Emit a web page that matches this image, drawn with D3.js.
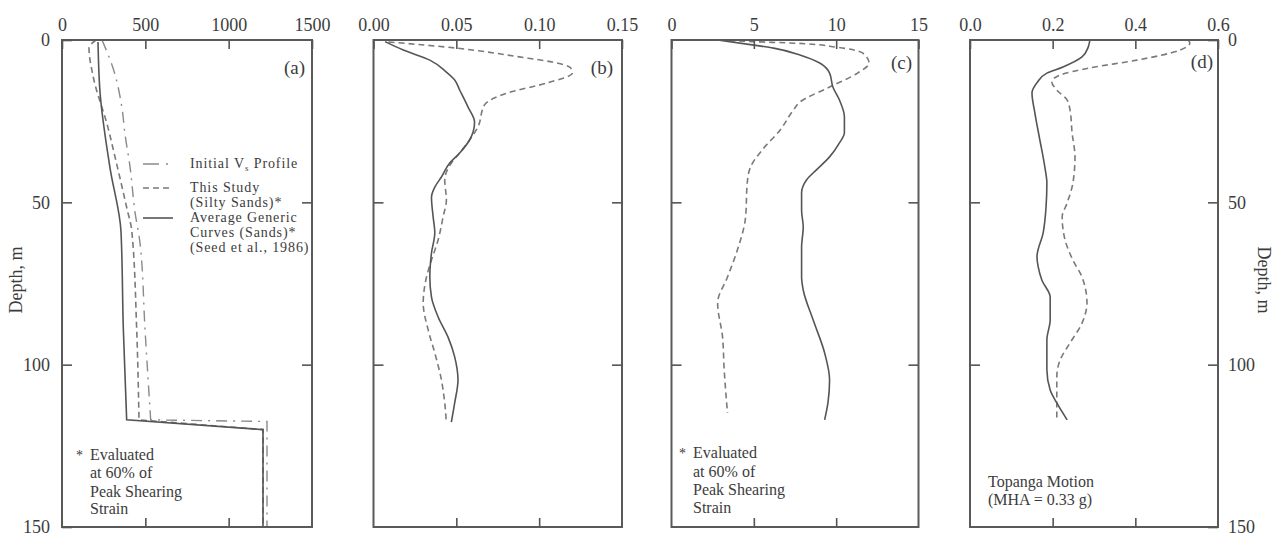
<!DOCTYPE html>
<html>
<head>
<meta charset="utf-8">
<script src="https://cdn.jsdelivr.net/npm/d3@7"></script>
<style>
  body { margin: 0; background: #fff; }
  text { font-family: "Liberation Serif", "Times New Roman", serif; fill: #3c3c3c; }
</style>
</head>
<body>
<div class="graph"></div>
<script>
const w = 1286;
const h = 545;
const yTop = 40, yBottom = 527;

const depthTicks = [0, 50, 100, 150];
const innerDepthTicks = [50, 100];

// (a) shear wave velocity, m/s  (last 3 points: jump to the stiff layer)
const xTicksA = [0, 500, 1000, 1500];
const vsInitialDepth = [0, 8.6, 21, 29, 39, 53, 62.5, 89, 117, 117.5, 150];
const vsInitial = [240, 306, 360, 378, 408, 438, 468, 498, 532, 1230, 1230];
const vsStudyDepth = [0, 2.5, 11, 27, 36, 52, 58.5, 89, 117, 120, 150];
const vsStudy = [204, 162, 186, 276, 318, 390, 418, 448, 462, 1206, 1206];
const vsGenericDepth = [0.6, 16, 39.4, 59, 89, 117, 120, 150];
const vsGeneric = [216, 228, 288, 354, 368, 388, 1206, 1206];

// (b) shear strain
const xTicksB = [0, 0.05, 0.10, 0.15];
const strainGenericDepth = [0.5, 3.1, 6.2, 9.9, 12.3, 15.4, 20.6, 25.3, 30.8, 34.8, 37.9, 42.2, 45.3, 48.4, 54.5, 59.4, 65.6, 73, 79.2, 85.3, 91.5, 97.6, 104.7, 111.8, 117.7];
const strainGeneric = [0.007, 0.018, 0.034, 0.044, 0.049, 0.052, 0.057, 0.061, 0.058, 0.052, 0.046, 0.041, 0.037, 0.035, 0.036, 0.037, 0.035, 0.034, 0.035, 0.039, 0.045, 0.049, 0.051, 0.049, 0.047];
const strainStudyDepth = [0.6, 2.5, 5.2, 6.8, 8.6, 10.2, 13.2, 16.3, 20, 26.8, 30.8, 34.8, 37.9, 43.1, 49.3, 54.5, 61.6, 67.8, 73, 81, 89.3, 96.4, 104.7, 111.8, 118];
const strainStudy = [0.009, 0.050, 0.088, 0.108, 0.119, 0.120, 0.105, 0.081, 0.067, 0.063, 0.058, 0.052, 0.047, 0.043, 0.044, 0.042, 0.039, 0.035, 0.032, 0.030, 0.033, 0.037, 0.041, 0.043, 0.044];

// (c) damping ratio, %
const xTicksC = [0, 5, 10, 15];
const dampGenericDepth = [0, 1.5, 2.5, 4.6, 7.1, 10.2, 14.5, 18.5, 23.7, 28.6, 31.7, 36, 40, 43.1, 47.1, 52.4, 57.6, 63.8, 73, 77, 86.2, 96.4, 104.7, 111.8, 117];
const dampGeneric = [2.8, 4.9, 6.2, 7.8, 9.0, 9.6, 9.8, 10.2, 10.5, 10.5, 10.2, 9.6, 8.8, 8.2, 7.9, 7.9, 8.0, 7.9, 7.9, 8.0, 8.6, 9.3, 9.6, 9.5, 9.3];
const dampStudyDepth = [0, 0.5, 1.0, 2.2, 4, 7.1, 10.2, 14.5, 19.1, 21.6, 27.7, 33.9, 39.1, 44, 54.5, 64.7, 73, 81, 91.5, 101.6, 114.9];
const dampStudy = [2.9, 4.9, 7.6, 10.0, 11.6, 12.0, 11.3, 9.6, 7.8, 7.4, 6.6, 5.5, 4.8, 4.6, 4.5, 4.0, 3.4, 2.8, 3.1, 3.2, 3.4];

// (d) peak acceleration, g
const xTicksD = [0, 0.2, 0.4, 0.6];
const accGenericDepth = [0, 2.2, 5.2, 8.3, 10.2, 13.2, 16.3, 22.5, 30.8, 39.1, 44, 51.4, 59.4, 66.8, 69.9, 74, 79.2, 86.2, 92.4, 101.6, 107.8, 111.8, 117];
const accGeneric = [0.290, 0.286, 0.271, 0.225, 0.186, 0.162, 0.150, 0.157, 0.169, 0.181, 0.186, 0.184, 0.177, 0.162, 0.165, 0.174, 0.194, 0.194, 0.186, 0.186, 0.194, 0.210, 0.235];
const accStudyDepth = [0, 0.9, 3.1, 6.2, 8.6, 10.8, 12.9, 15.4, 18.5, 21.6, 28.6, 36, 44, 50.2, 54.5, 61.6, 67.8, 73, 81, 87.2, 93.3, 98.6, 103.8, 110, 117];
const accStudy = [0.527, 0.532, 0.508, 0.404, 0.290, 0.218, 0.198, 0.210, 0.235, 0.242, 0.247, 0.254, 0.249, 0.235, 0.223, 0.230, 0.249, 0.271, 0.283, 0.271, 0.242, 0.218, 0.210, 0.210, 0.210];

const styles = {
  solid:   {stroke: "#555", dash: null, width: 1.6},
  dashed:  {stroke: "#7a7a7a", dash: "6,4", width: 1.6},
  dashdot: {stroke: "#8a8a8a", dash: "11,6,2,6", width: 1.4}
};

const panels = [
  {left: 62, right: 312, domain: [0, 1500], ticks: xTicksA, fmt: d3.format("d"), label: "(a)", labelAt: [305, 74],
   leftLabels: true, rightLabels: false, jump: true,
   series: [
     {x: vsInitial, d: vsInitialDepth, style: "dashdot"},
     {x: vsStudy, d: vsStudyDepth, style: "dashed"},
     {x: vsGeneric, d: vsGenericDepth, style: "solid"}
   ]},
  {left: 373.5, right: 622, domain: [0, 0.15], ticks: xTicksB, fmt: d3.format(".2f"), label: "(b)", labelAt: [613, 74],
   leftLabels: false, rightLabels: false,
   series: [
     {x: strainStudy, d: strainStudyDepth, style: "dashed"},
     {x: strainGeneric, d: strainGenericDepth, style: "solid"}
   ]},
  {left: 671.5, right: 918.5, domain: [0, 15], ticks: xTicksC, fmt: d3.format("d"), label: "(c)", labelAt: [912, 69],
   leftLabels: false, rightLabels: false,
   series: [
     {x: dampStudy, d: dampStudyDepth, style: "dashed"},
     {x: dampGeneric, d: dampGenericDepth, style: "solid"}
   ]},
  {left: 970, right: 1218, domain: [0, 0.6], ticks: xTicksD, fmt: d3.format(".1f"), label: "(d)", labelAt: [1213, 68],
   leftLabels: false, rightLabels: true,
   series: [
     {x: accStudy, d: accStudyDepth, style: "dashed"},
     {x: accGeneric, d: accGenericDepth, style: "solid"}
   ]}
];

const canvas = d3.select(".graph")
                 .append("svg")
                 .attr("width", w)
                 .attr("height", h);

const y = d3.scaleLinear().domain([0, 150]).range([yTop, yBottom]);

function styleAxis(g) {
  g.select(".domain").remove();
  g.selectAll("line").attr("stroke", "#555").attr("stroke-width", 1.6);
  g.selectAll("text").attr("font-size", 18).attr("font-family", null).attr("fill", "#3c3c3c");
}

panels.forEach(function(p) {
  const x = d3.scaleLinear().domain(p.domain).range([p.left, p.right]);
  const inner = p.ticks.slice(1, -1);
  const smooth = d3.line().x(d => x(d[0])).y(d => y(d[1])).curve(d3.curveMonotoneY);
  const straight = d3.line().x(d => x(d[0])).y(d => y(d[1]));

  // curves
  p.series.forEach(function(s) {
    const st = styles[s.style];
    const pts = s.x.map((v, i) => [v, s.d[i]]);
    // profile part is smooth; the jump into the stiff layer is straight
    const cut = p.jump ? pts.length - 2 : pts.length;
    const dStr = smooth(pts.slice(0, cut)) + (p.jump ? straight(pts.slice(cut - 1)).replace(/^M/, "L") : "");
    canvas.append("path")
          .attr("fill", "none")
          .attr("stroke", st.stroke)
          .attr("stroke-width", st.width)
          .attr("stroke-dasharray", st.dash)
          .attr("d", dStr);
  });

  // frame
  canvas.append("rect")
        .attr("x", p.left).attr("y", yTop)
        .attr("width", p.right - p.left).attr("height", yBottom - yTop)
        .attr("fill", "none").attr("stroke", "#5a5a5a").attr("stroke-width", 2);

  canvas.append("g")
        .attr("transform", `translate(0, ${yTop})`)
        .call(d3.axisTop(x).tickValues(p.ticks).tickSize(-9).tickSizeOuter(0).tickPadding(9).tickFormat(p.fmt))
        .call(styleAxis);

  canvas.append("g")
        .attr("transform", `translate(0, ${yBottom})`)
        .call(d3.axisBottom(x).tickValues(inner).tickSize(-9).tickSizeOuter(0).tickFormat(""))
        .call(styleAxis);

  canvas.append("g")
        .attr("transform", `translate(${p.left}, 0)`)
        .call(d3.axisLeft(y).tickValues(p.leftLabels ? depthTicks : innerDepthTicks)
                .tickSize(-10).tickSizeOuter(0).tickPadding(12))
        .call(g => { if (!p.leftLabels) g.selectAll("text").remove(); })
        .call(styleAxis);

  canvas.append("g")
        .attr("transform", `translate(${p.right}, 0)`)
        .call(d3.axisRight(y).tickValues(p.rightLabels ? depthTicks : innerDepthTicks)
                .tickSize(-10).tickSizeOuter(0).tickPadding(10))
        .call(g => { if (!p.rightLabels) g.selectAll("text").remove(); })
        .call(styleAxis);

  canvas.append("text")
        .attr("x", p.labelAt[0]).attr("y", p.labelAt[1])
        .attr("text-anchor", "end")
        .attr("font-size", 19)
        .text(p.label);
});

// depth titles
canvas.append("text")
      .attr("transform", "translate(16, 280) rotate(-90)")
      .attr("text-anchor", "middle").attr("dominant-baseline", "central")
      .attr("font-size", 18).text("Depth, m");
canvas.append("text")
      .attr("transform", "translate(1264, 280) rotate(90)")
      .attr("text-anchor", "middle").attr("dominant-baseline", "central")
      .attr("font-size", 18).text("Depth, m");

// legend in (a)
const legendRows = [
  {y: 164, text: "Initial V", sub: "s", after: " Profile", style: "dashdot"},
  {y: 188, text: "This Study", style: "dashed"},
  {y: 203, text: "(Silty Sands)*"},
  {y: 218, text: "Average Generic", style: "solid"},
  {y: 233, text: "Curves (Sands)*"},
  {y: 248, text: "(Seed et al., 1986)"}
];
const legend = canvas.append("g").attr("id", "legend");
legendRows.forEach(function(r) {
  if (r.style) {
    const st = styles[r.style];
    legend.append("line")
          .attr("x1", 143).attr("x2", 173).attr("y1", r.y).attr("y2", r.y)
          .attr("stroke", st.stroke).attr("stroke-width", st.width)
          .attr("stroke-dasharray", r.style === "dashdot" ? "16,7,2,20" : st.dash);
  }
  const t = legend.append("text")
                  .attr("x", 190).attr("y", r.y + 4)
                  .attr("font-size", 14).attr("letter-spacing", 0.9);
  t.append("tspan").text(r.text);
  if (r.sub) {
    t.append("tspan").attr("font-size", 9).attr("dy", 3).text(r.sub);
    t.append("tspan").attr("dy", -3).text(r.after);
  }
});

// notes
function note(x0, lines, ys, star) {
  const g = canvas.append("g");
  if (star) {
    g.append("text").attr("x", x0 - 14).attr("y", ys[0] + 5).attr("font-size", 14).text("*");
  }
  lines.forEach(function(l, i) {
    g.append("text").attr("x", x0).attr("y", ys[i] + 5).attr("font-size", 16).text(l);
  });
}
const noteLines = ["Evaluated", "at 60% of", "Peak Shearing", "Strain"];
note(90, noteLines, [455, 473, 492, 509], true);
note(693, noteLines, [453, 472, 490, 508], true);
note(988, ["Topanga Motion", "(MHA = 0.33 g)"], [482, 500], false);
</script>
</body>
</html>
